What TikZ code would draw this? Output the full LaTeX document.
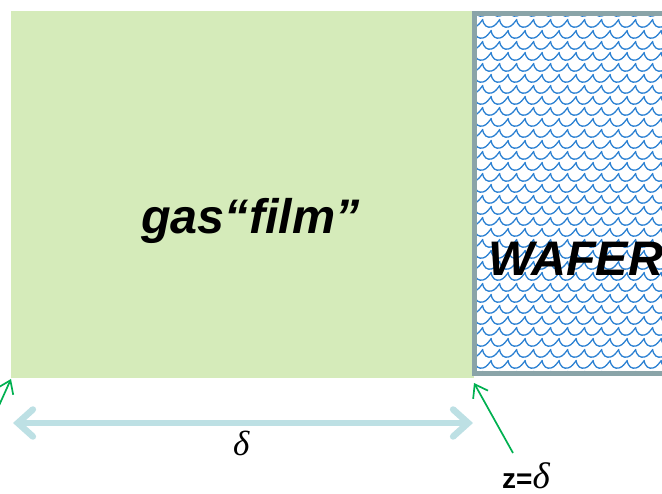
\documentclass[tikz,border=0pt]{standalone}
\usepackage{fontspec}
\setmainfont{Liberation Sans}
\newfontfamily\serifgr{Liberation Serif}
\usetikzlibrary{arrows.meta}
\definecolor{filmgreen}{HTML}{D5EBBA}
\definecolor{waferedge}{HTML}{8AA4A8}
\definecolor{scaleblue}{HTML}{2A80D2}
\definecolor{dimblue}{HTML}{BDE0E4}
\definecolor{ptrgreen}{HTML}{00B050}
\tikzset{
  bigtext/.style={font=\fontsize{48.5}{52}\selectfont\bfseries\itshape, inner sep=0pt, anchor=base west},
  dimline/.style={dimblue, line width=6.5pt, line cap=round,
     {Straight Barb[length=15pt,width=27pt,line cap=round]}-{Straight Barb[length=15pt,width=27pt,line cap=round]}},
  pointer/.style={ptrgreen, line width=1.7pt, -{Straight Barb[length=12pt,width=17pt]}},
  deltatext/.style={font=\fontsize{35}{38}\selectfont\serifgr\itshape, inner sep=0pt, anchor=base west},
}
\begin{document}
\begin{tikzpicture}[x=1pt,y=-1pt]
\useasboundingbox (0,0) rectangle (662,494);
% gas film
\fill[filmgreen] (11,11) rectangle (474,378);
% wafer pattern
\begin{scope}
  \clip (474,13) rectangle (700,375);
  \foreach \r in {0,...,34} {
    \foreach \c in {-1,...,12} {
      \pgfmathsetmacro{\xx}{474+\c*17+mod(\r,2)*8.5}
      \pgfmathsetmacro{\yy}{8+\r*11}
      \draw[scaleblue, line width=1.3pt]
        (\xx,\yy) .. controls (\xx+1,\yy+7) and (\xx+5,\yy+9) .. (\xx+9,\yy+8)
                  .. controls (\xx+13,\yy+7) and (\xx+15,\yy+3) .. (\xx+17,\yy+1);
    }
  }
\end{scope}
\draw[waferedge, line width=5pt] (700,13.5) -- (474.5,13.5) -- (474.5,374) -- (700,374);
% texts
\node[bigtext] (film) at (141,234) {gas“film”};
\node[bigtext] (wafer) at (488,276) {WAFER};
% dimension arrow
\coordinate (dl) at (13,423);
\coordinate (dr) at (473,423);
\draw[dimline] (dl) -- (dr);
\node[deltatext] (delta) at (233,456) {δ};
% pointers
\coordinate (p1s) at (-3,410);
\coordinate (p1e) at (11,379);
\draw[pointer] (p1s) -- (p1e);
\coordinate (p2s) at (513,453);
\coordinate (p2e) at (474,383);
\draw[pointer] (p2s) -- (p2e);
\node[inner sep=0pt, anchor=base west] (zlabel) at (502,489)
  {\fontsize{28}{30}\selectfont\bfseries z=\fontsize{37}{40}\selectfont\serifgr\mdseries\itshape δ};
\end{tikzpicture}
\end{document}
